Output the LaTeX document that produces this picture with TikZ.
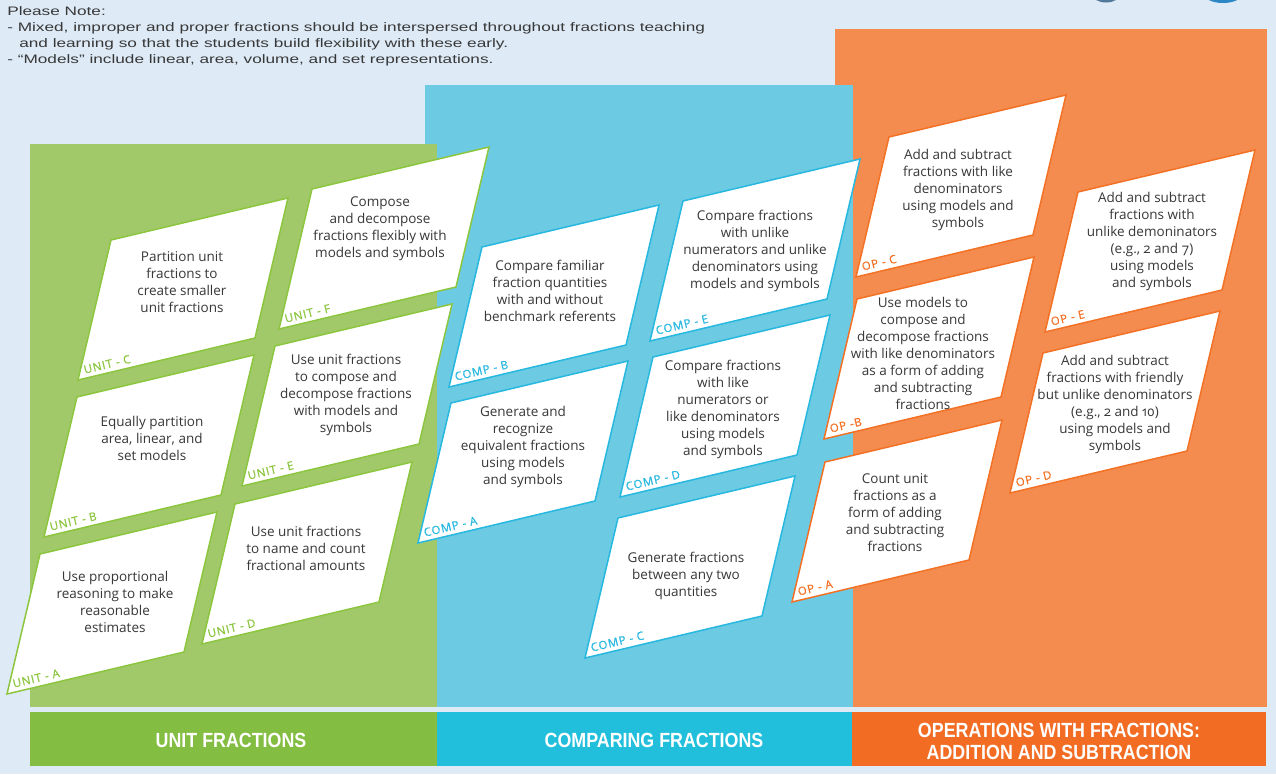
\documentclass[tikz,border=0pt]{standalone}
\usepackage{fontspec}
\setmainfont{Open Sans}
\newfontfamily\notefont{Liberation Sans}
\newfontfamily\barfont{Liberation Sans}
\newfontfamily\tagfont[LetterSpace=7,FakeBold=0.6]{Open Sans}
\usetikzlibrary{calc}

\definecolor{bg}{HTML}{DEEBF7}
\definecolor{unitcol}{HTML}{A1C96A}
\definecolor{compcol}{HTML}{6CCAE3}
\definecolor{opcol}{HTML}{F48C4F}
\definecolor{unitbar}{HTML}{83BD42}
\definecolor{compbar}{HTML}{21BFDB}
\definecolor{opbar}{HTML}{F26C23}
\definecolor{unitline}{HTML}{8CC63F}
\definecolor{compline}{HTML}{27B8E0}
\definecolor{opline}{HTML}{F37125}
\definecolor{unittag}{HTML}{8CC63F}
\definecolor{comptag}{HTML}{27B8E0}
\definecolor{optag}{HTML}{F37125}
\definecolor{txt}{HTML}{383838}
\definecolor{logogray}{HTML}{50799C}
\definecolor{logoblue}{HTML}{2B87C6}

\tikzset{
  card/.style={fill=white, line width=1.5pt, line join=miter},
  cardtext/.style={align=center, text=txt, inner sep=0pt,
    font=\fontsize{13.5}{17}\selectfont},
  cardtag/.style={rotate=13.35, anchor=base west, inner sep=0pt,
    font=\tagfont\fontsize{11.5}{11.5}\selectfont},
  notetext/.style={anchor=base west, inner sep=0pt, text=txt,
    xscale=1.40, transform shape, font=\notefont\fontsize{12.3}{16}\selectfont},
  bartext/.style={align=center, text=white, inner sep=0pt,
    xscale=0.87, transform shape,
    font=\barfont\bfseries\fontsize{20.5}{22}\selectfont},
}

% one learning-goal card: #1 name, #2 colour family, #3/#4 top-left corner,
% #5/#6 centre of the text, #7 tag, #8 text  (positions measured from top-left, y down)
\newcommand{\fcard}[8]{%
  \coordinate (#1-tl) at (#3,-#4);
  \coordinate (#1-tr) at ($(#1-tl)+(177,42)$);
  \coordinate (#1-br) at ($(#1-tr)+(-33,-140)$);
  \coordinate (#1-bl) at ($(#1-tl)+(-33,-140)$);
  \filldraw[card, draw=#2line] (#1-tl) -- (#1-tr) -- (#1-br) -- (#1-bl) -- cycle;
  \node[cardtext] (#1) at (#5,-#6) {#8};
  \node[cardtag, text=#2tag] (#1-tag) at ($(#1-bl)+(6.7,6.2)$) {#7};
}
\newcommand{\osf}[1]{{\addfontfeatures{Numbers=OldStyle}#1}}

\begin{document}
\begin{tikzpicture}[x=1pt,y=1pt]
\useasboundingbox (0,0) rectangle (1276,-774);
\fill[bg] (0,0) rectangle (1276,-774);

% logo pieces peeking in at the top edge
\begin{scope}
  \clip (0,0) rectangle (1276,-774);
  \fill[logogray] (1106,6) ellipse (14 and 8.5);
  \fill[logoblue] (1223,7) ellipse (20 and 10);
\end{scope}

% note
\node[notetext] (note0) at (7,-15) {Please Note:};
\node[notetext] (note1) at (7,-31) {- Mixed, improper and proper fractions should be interspersed throughout fractions teaching};
\node[notetext] (note2) at (19,-47) {and learning so that the students build flexibility with these early.};
\node[notetext] (note3) at (7,-63) {- “Models” include linear, area, volume, and set representations.};

% column panels
\fill[opcol] (835,-29) rectangle (1267,-707);
\fill[compcol] (425,-85) rectangle (853,-707);
\fill[unitcol] (30,-144) rectangle (437,-707);

% title bars
\fill[unitbar] (30,-712) rectangle (437,-766);
\fill[compbar] (437,-712) rectangle (852,-766);
\fill[opbar] (852,-712) rectangle (1266,-766);
\node[bartext] (unittitle) at (231,-740) {UNIT FRACTIONS};
\node[bartext] (comptitle) at (654,-740) {COMPARING FRACTIONS};
\node[bartext] (optitle) at (1059,-741) {OPERATIONS WITH FRACTIONS:\\ADDITION AND SUBTRACTION};

% unit fractions
\fcard{unitC}{unit}{111}{240}{182}{282}{UNIT - C}{Partition unit\\fractions to\\create smaller\\unit fractions}
\fcard{unitF}{unit}{312}{189}{380}{229}{UNIT - F}{Compose\\and decompose\\fractions flexibly with\\models and symbols}
\fcard{unitE}{unit}{275}{346}{346}{395}{UNIT - E}{Use unit fractions\\to compose and\\decompose fractions\\with models and\\symbols}
\fcard{unitB}{unit}{77}{397}{152}{438}{UNIT - B}{Equally partition\\area, linear, and\\set models}
\fcard{unitA}{unit}{40}{554}{115}{602}{UNIT - A}{Use proportional\\reasoning to make\\reasonable\\estimates}
\fcard{unitD}{unit}{235}{504}{306}{548}{UNIT - D}{Use unit fractions\\to name and count\\fractional amounts}

% comparing fractions
\fcard{compB}{comp}{482}{247}{550}{291}{COMP - B}{Compare familiar\\fraction quantities\\with and without\\benchmark referents}
\fcard{compE}{comp}{683}{201}{755}{251}{COMP - E}{Compare fractions\\with unlike\\numerators and unlike\\denominators using\\models and symbols}
\fcard{compA}{comp}{451}{403}{523}{447}{COMP - A}{Generate and\\recognize\\equivalent fractions\\using models\\and symbols}
\fcard{compD}{comp}{653}{357}{723}{409}{COMP - D}{Compare fractions\\with like\\numerators or\\like denominators\\using models\\and symbols}
\fcard{compC}{comp}{618}{518}{686}{576}{COMP - C}{Generate fractions\\between any two\\quantities}

% operations with fractions
\fcard{opC}{op}{889}{137}{958}{190}{OP - C}{Add and subtract\\fractions with like\\denominators\\using models and\\symbols}
\fcard{opE}{op}{1078}{192}{1152}{241}{OP - E}{Add and subtract\\fractions with\\unlike demoninators\\\osf{(e.g., 2 and 7)}\\using models\\and symbols}
\fcard{opB}{op}{857}{299}{923}{353}{OP -B}{Use models to\\compose and\\decompose fractions\\with like denominators\\as a form of adding\\and subtracting\\fractions}
\fcard{opD}{op}{1043}{353}{1115}{404}{OP - D}{Add and subtract\\fractions with friendly\\but unlike denominators\\\osf{(e.g., 2 and 10)}\\using models and\\symbols}
\fcard{opA}{op}{825}{462}{895}{513}{OP - A}{Count unit\\fractions as a\\form of adding\\and subtracting\\fractions}
\end{tikzpicture}
\end{document}
